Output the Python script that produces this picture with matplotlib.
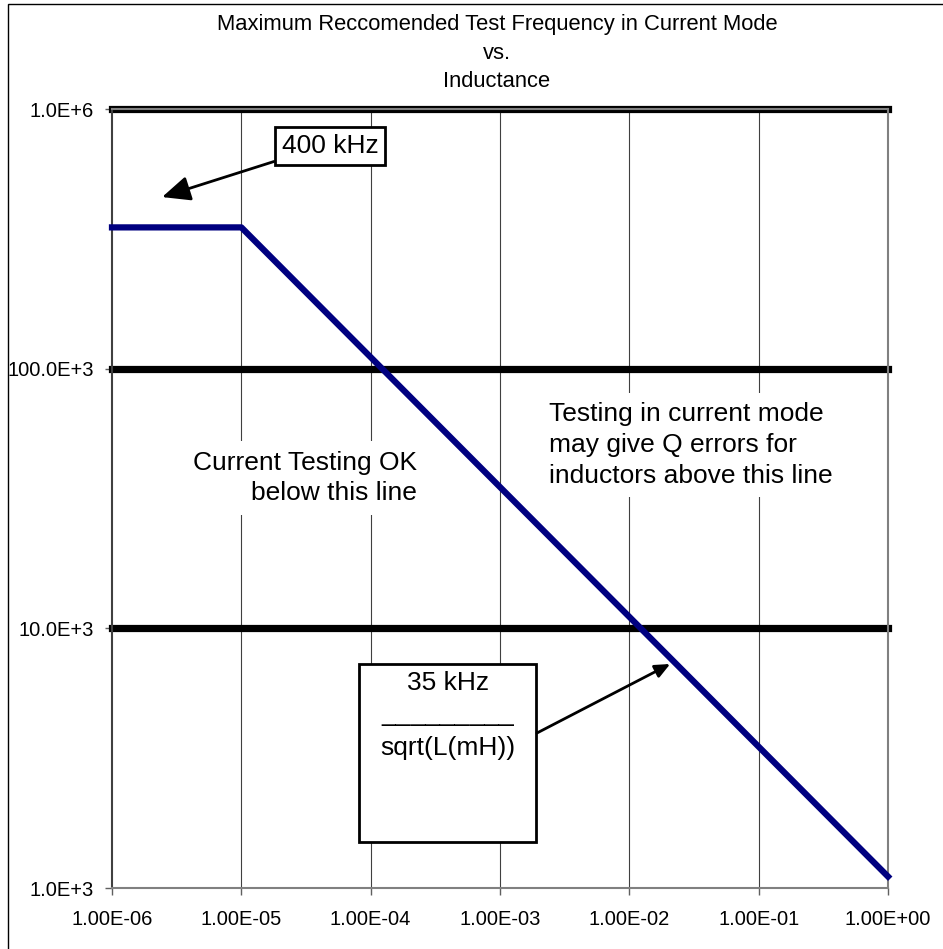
import matplotlib
matplotlib.use("Agg")
import matplotlib.pyplot as plt
from matplotlib.patches import Rectangle

plt.rcParams['font.family'] = ['Liberation Sans', 'DejaVu Sans']

# inductance (H) and max recommended frequency (Hz)
inductance = [1e-6, 1e-5, 1e-4, 1e-3, 1e-2, 1e-1, 1e0]
max_freq = [350e3, 350e3, 110.7e3, 35e3, 11.07e3, 3.5e3, 1.107e3]

x_ticks = [1e-6, 1e-5, 1e-4, 1e-3, 1e-2, 1e-1, 1e0]
x_labels = ['1.00E-06', '1.00E-05', '1.00E-04', '1.00E-03', '1.00E-02', '1.00E-01', '1.00E+00']
y_ticks = [1e3, 1e4, 1e5, 1e6]
y_labels = ['1.0E+3', '10.0E+3', '100.0E+3', '1.0E+6']
limit_lines = [1e4, 1e5, 1e6]

W, H = 943, 949
fig = plt.figure(figsize=(W / 100, H / 100), dpi=100)
ax = fig.add_axes([112 / W, 1 - 888 / H, 776 / W, 779 / H])

ax.set_xscale('log')
ax.set_yscale('log')
ax.set_xlim(1e-6, 1e0)
ax.set_ylim(1e3, 1e6)

# thin vertical grid, thick horizontal decade lines
for xv in x_ticks[1:-1]:
    ax.axvline(xv, color='#404040', lw=0.8, zorder=1)
for yv in limit_lines:
    ax.axhline(yv, color='black', lw=5.2, zorder=2, clip_on=False)

ax.plot(inductance, max_freq, color='#000080', lw=4.5, zorder=4, clip_on=False)

ax.set_xticks(x_ticks)
ax.set_xticklabels(x_labels)
ax.set_yticks(y_ticks)
ax.set_yticklabels(y_labels)
ax.minorticks_off()
ax.tick_params(axis='both', direction='out', length=5, width=1, color='#606060', labelsize=14.5)
ax.tick_params(axis='x', pad=11)
ax.tick_params(axis='y', pad=8)
for s in ax.spines.values():
    s.set_color('#808080')
    s.set_linewidth(1.5)
ax.spines['left'].set_color('#404040')

# title, three centred lines
title_lines = ['Maximum Reccomended Test Frequency in Current Mode', 'vs.', 'Inductance']
for txt, py in zip(title_lines, [30, 59, 87]):
    fig.text(497 / W, 1 - py / H, txt, ha='center', va='baseline', fontsize=15.8)

# outer chart border (right and bottom fall outside the image)
fig.add_artist(Rectangle((8 / W, -0.1), 2, 1.1 - 4 / H, transform=fig.transFigure,
                         fill=False, ec='black', lw=1))


def af(px, py):
    return ((px - 112) / 776, (888 - py) / 779)


ann = 19
white = dict(boxstyle='square,pad=0.35', fc='white', ec='none')

ax.text(*af(417, 478), 'Current Testing OK\nbelow this line', transform=ax.transAxes,
        ha='right', va='center', fontsize=ann, linespacing=1.35, bbox=white, zorder=3)
ax.text(*af(549, 445), 'Testing in current mode\nmay give Q errors for\ninductors above this line',
        transform=ax.transAxes, ha='left', va='center', fontsize=ann, linespacing=1.35,
        bbox=white, zorder=3)

# 400 kHz callout
ax.annotate('400 kHz', xy=(2.44e-6, 4.58e5), xycoords='data',
            xytext=af(330, 146), textcoords='axes fraction', ha='center', va='center',
            fontsize=ann, zorder=6,
            bbox=dict(boxstyle='square,pad=0.25', fc='white', ec='black', lw=2),
            arrowprops=dict(arrowstyle='-|>,head_length=0.9,head_width=0.4', color='black',
                            lw=2, relpos=(0.16, 0.16), shrinkA=0, shrinkB=0))

# 35 kHz / sqrt(L(mH)) box
bx0, by0 = af(359, 842)
bx1, by1 = af(536, 664)
ax.add_patch(Rectangle((bx0, by0), bx1 - bx0, by1 - by0, transform=ax.transAxes,
                       fc='white', ec='black', lw=2, zorder=6))
ax.text(*af(448, 683), '35 kHz', transform=ax.transAxes, ha='center', va='center',
        fontsize=ann, zorder=7)
ax.text(*af(448, 721), '_________', transform=ax.transAxes, ha='center', va='baseline',
        fontsize=ann, zorder=7)
ax.text(*af(448, 748), 'sqrt(L(mH))', transform=ax.transAxes, ha='center', va='center',
        fontsize=ann, zorder=7)
ax.annotate('', xy=(0.0207, 7.29e3), xycoords='data',
            xytext=af(537, 733), textcoords='axes fraction',
            arrowprops=dict(arrowstyle='-|>,head_length=0.9,head_width=0.4', color='black',
                            lw=2, shrinkA=0, shrinkB=0), zorder=7)

fig.savefig('out.png', dpi=100)
